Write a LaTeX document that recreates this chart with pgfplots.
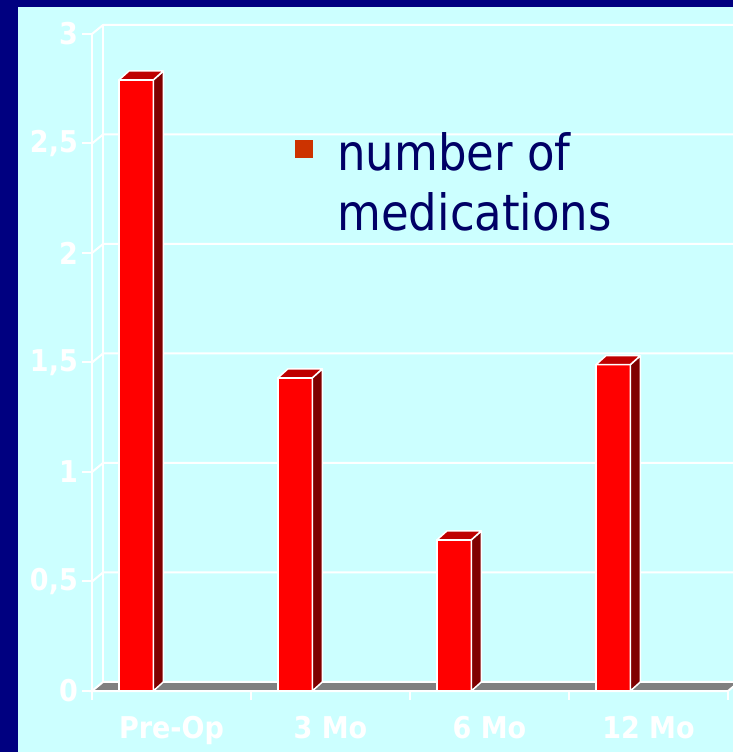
\documentclass[border=0pt]{standalone}
\usepackage{pgfplots}
\usepackage{pgfplotstable}
\pgfplotsset{compat=1.18}
\usepackage{fontspec}
\setmainfont{DejaVu Sans Condensed}

\definecolor{navybg}{HTML}{000080}
\definecolor{panel}{HTML}{CCFFFF}
\definecolor{barfront}{HTML}{FF0000}
\definecolor{barside}{HTML}{800000}
\definecolor{bartop}{HTML}{BF0000}
\definecolor{floorgrey}{HTML}{808080}
\definecolor{keyorange}{HTML}{CC3300}
\definecolor{keytext}{HTML}{000066}

% depth of the back wall, in axis units
\def\wx{0.0692}
\def\wy{0.0411}

% an invisible mark: the 3-D faces are drawn by the scatter hook
\pgfdeclareplotmark{faces3d}{}

\pgfplotstableread{
x  meds
0  2.79
1  1.43
2  0.69
3  1.49
}\medtable

\begin{document}
\begin{tikzpicture}
\useasboundingbox (-92pt,-61pt) rectangle (641pt,691pt);
\clip (-92pt,-61pt) rectangle (641pt,691pt);
\fill[navybg] (-92pt,-61pt) rectangle (641pt,691pt);
\fill[panel] (-74pt,-61pt) rectangle (641pt,684pt);
\begin{axis}[
  at={(0pt,0pt)}, anchor=south west,
  scale only axis, width=636pt, height=657pt,
  xmin=-0.5, xmax=3.5, ymin=0, ymax=3,
  clip=false,
  axis x line*=bottom, axis y line*=left,
  axis line style={white, line width=2pt, -},
  tick align=outside,
  major tick length=10pt,
  tick style={white, line width=2pt},
  xtick={0,1,2,3},
  xticklabels={Pre-Op,3 Mo,6 Mo,12 Mo},
  xtick style={draw=none},
  extra x ticks={-0.5,0.5,1.5,2.5,3.5},
  extra x tick labels={},
  extra x tick style={major tick length=9pt, xtick style={draw=white, line width=2pt}},
  ytick={0,0.5,1,1.5,2,2.5,3},
  yticklabels={0,{0,5},1,{1,5},2,{2,5},3},
  ticklabel style={font=\fontsize{30}{35}\selectfont\bfseries, text=white},
  xticklabel style={anchor=base, inner sep=0pt, yshift=-37pt},
  yticklabel style={anchor=east, inner sep=0pt, xshift=-4pt},
  legend style={at={(axis cs:0.7767,2.548)}, anchor=north west,
    draw=none, fill=none, inner sep=0pt, outer sep=0pt,
    font=\fontsize{50}{60}\selectfont, text=keytext,
    cells={anchor=west, align=left}, nodes={inner sep=0pt},
    /tikz/column sep=24pt},
]
% floor
\filldraw[fill=floorgrey, draw=white, line width=2pt]
  (axis cs:-0.5,0) -- (axis cs:3.5,0) -- (axis cs:3.5+\wx,\wy)
  -- (axis cs:-0.5+\wx,\wy) -- cycle;
% back wall edge and gridlines
\draw[white, line width=2pt] (axis cs:-0.5+\wx,\wy) -- (axis cs:-0.5+\wx,3+\wy);
\pgfplotsinvokeforeach{0.5,1,1.5,2,2.5,3}{
  \draw[white, line width=2pt, line join=round]
    (axis cs:-0.5,#1) -- (axis cs:-0.5+\wx,#1+\wy) -- (axis cs:3.7,#1+\wy);
}
% front faces of the bars
\addplot[ybar, bar width=0.216, bar shift=-0.2225,
  fill=barfront, draw=white, line width=1.5pt,
  legend image code/.code={\fill[keyorange] (0pt,25pt) rectangle (17pt,42pt);}]
  table[x=x, y=meds] {\medtable};
\addlegendentry{number of\\medications}
% side and top faces of the bars
\addplot[forget plot, only marks, mark=faces3d, scatter,
  visualization depends on={\thisrow{meds} \as \barval},
  scatter/@pre marker code/.code={%
    \filldraw[fill=barside, draw=white, line width=1.5pt, line join=round]
      (axis direction cs:-0.1145,0) -- ++(10pt,9pt)
      -- ++(axis direction cs:0,-\barval) -- ++(-10pt,-9pt) -- cycle;
    \filldraw[fill=bartop, draw=white, line width=1.5pt, line join=round]
      (axis direction cs:-0.1145,0) -- ++(10pt,9pt)
      -- ++(axis direction cs:-0.216,0) -- ++(-10pt,-9pt) -- cycle;
  },
  scatter/@post marker code/.code={},
] table[x=x, y=meds] {\medtable};
\end{axis}
\end{tikzpicture}
\end{document}
